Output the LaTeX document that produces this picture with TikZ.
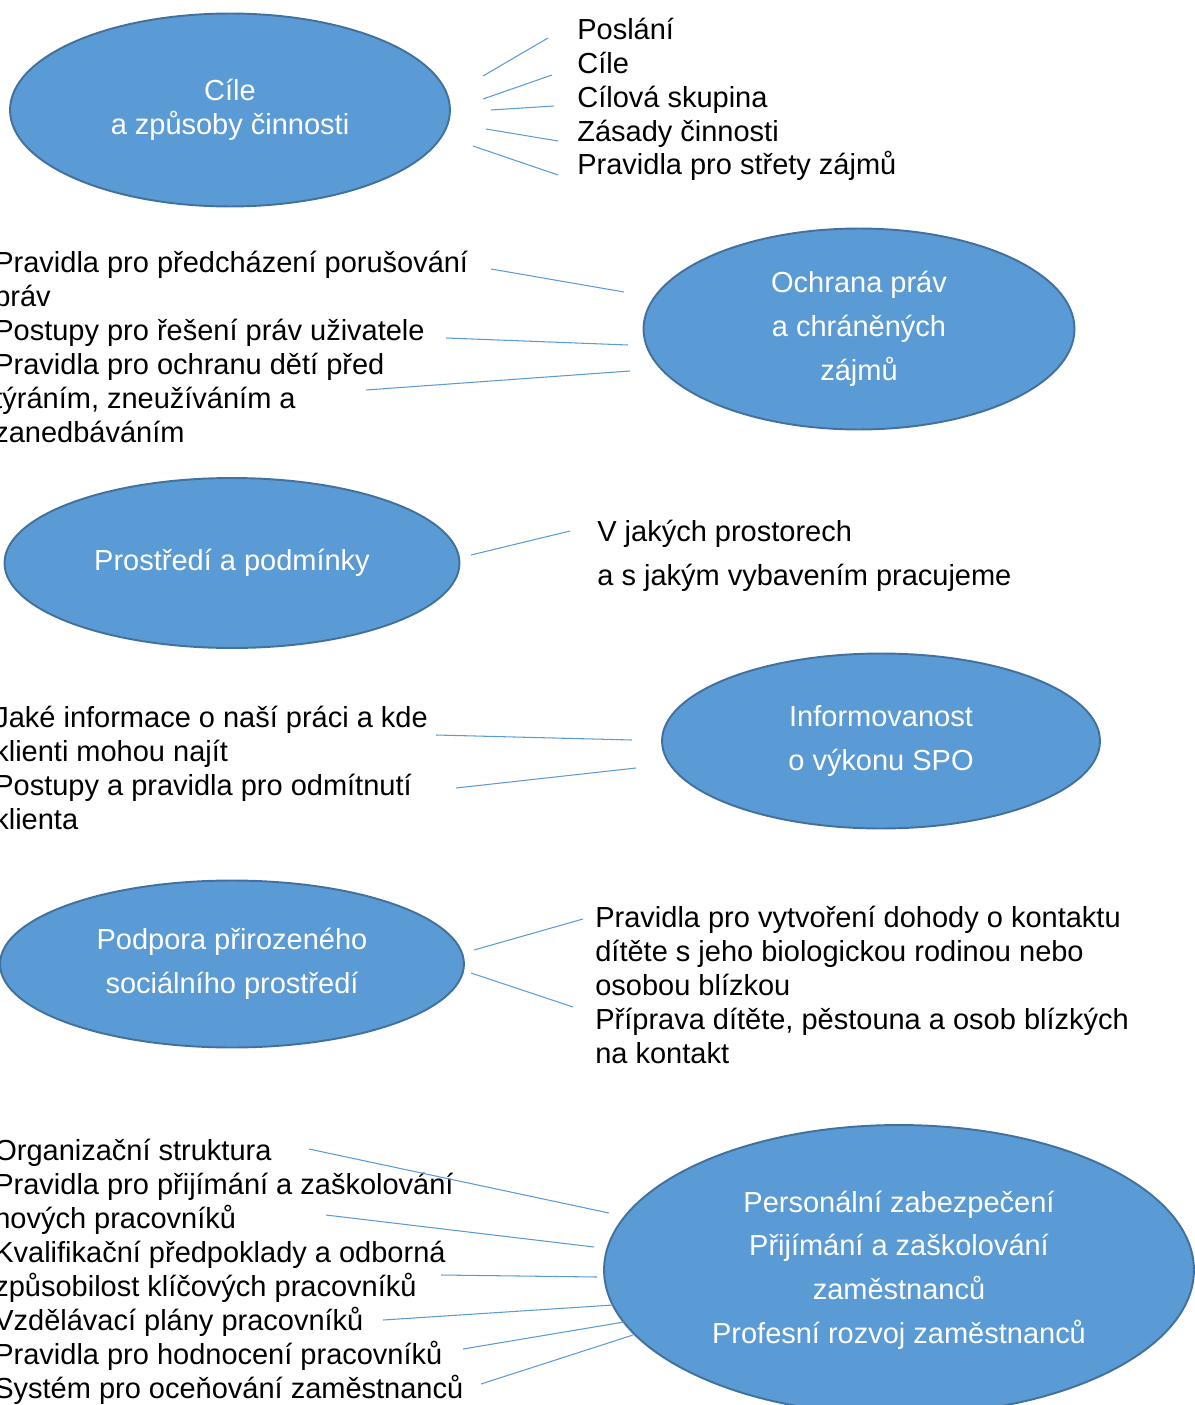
\documentclass[tikz,border=0pt]{standalone}
\usepackage{fontspec}
\setmainfont{Liberation Sans}
\usetikzlibrary{shapes.geometric}
\definecolor{bubblefill}{HTML}{5B9BD5}
\definecolor{bubbleedge}{HTML}{41719C}
\tikzset{
    bubble/.style={ellipse, draw=bubbleedge, line width=1.1pt, fill=bubblefill, text=white, align=center, inner sep=0pt, font=\fontsize{16.5}{19.3}\selectfont},
    wide/.style={font=\fontsize{16.5}{24.9}\selectfont},
    item/.style={anchor=base west, align=left, inner sep=0pt, font=\fontsize{16.5}{19.3}\selectfont},
    spoke/.style={draw=bubblefill, line width=0.6pt},
}
\begin{document}
\begin{tikzpicture}[x=0.02cm, y=-0.02cm]
    \useasboundingbox (0, 0) rectangle (1194, 1405);
    % bubbles
    \node[bubble, minimum width=8.8cm, minimum height=3.86cm] (cile) at (230, 110) {Cíle\\a způsoby činnosti};
    \node[bubble, wide, minimum width=8.62cm, minimum height=4.02cm] (ochrana) at (859, 329) {Ochrana práv\\a chráněných\\zájmů};
    \node[bubble, minimum width=9.1cm, minimum height=3.4cm] (prostredi) at (232, 563) {Prostředí a podmínky};
    \node[bubble, wide, minimum width=8.76cm, minimum height=3.5cm] (info) at (881, 741) {Informovanost\\o výkonu SPO};
    \node[bubble, wide, minimum width=9.28cm, minimum height=3.34cm] (podpora) at (232, 964) {Podpora přirozeného\\sociálního prostředí};
    \node[bubble, wide, minimum width=11.8cm, minimum height=5.8cm] (personal) at (899, 1270) {Personální zabezpečení\\Přijímání a zaškolování\\zaměstnanců\\Profesní rozvoj zaměstnanců};
    % item lists (anchored at the baseline of their last line)
    \node[item] (cilelist) at (577, 175) {Poslání\\Cíle\\Cílová skupina\\Zásady činnosti\\Pravidla pro střety zájmů};
    \node[item] (ochranalist) at (-6, 442) {Pravidla pro předcházení porušování\\práv\\Postupy pro řešení práv uživatele\\Pravidla pro ochranu dětí před\\týráním, zneužíváním a\\zanedbáváním};
    \node[item, wide] (prostredilist) at (597, 585) {V jakých prostorech\\a s jakým vybavením pracujeme};
    \node[item] (infolist) at (-6, 829) {Jaké informace o naší práci a kde\\klienti mohou najít\\Postupy a pravidla pro odmítnutí\\klienta};
    \node[item] (podporalist) at (595, 1063) {Pravidla pro vytvoření dohody o kontaktu\\dítěte s jeho biologickou rodinou nebo\\osobou blízkou\\Příprava dítěte, pěstouna a osob blízkých\\na kontakt};
    \node[item] (personallist) at (-6, 1398) {Organizační struktura\\Pravidla pro přijímání a zaškolování\\nových pracovníků\\Kvalifikační předpoklady a odborná\\způsobilost klíčových pracovníků\\Vzdělávací plány pracovníků\\Pravidla pro hodnocení pracovníků\\Systém pro oceňování zaměstnanců};
    % spoke ends
    \coordinate (c1a) at (483, 76);   \coordinate (c1b) at (548, 38);
    \coordinate (c2a) at (483, 99);   \coordinate (c2b) at (552, 75);
    \coordinate (c3a) at (491, 110);  \coordinate (c3b) at (554, 106);
    \coordinate (c4a) at (486, 129);  \coordinate (c4b) at (558, 141);
    \coordinate (c5a) at (473, 146);  \coordinate (c5b) at (558, 175);
    \coordinate (o1a) at (624, 292);  \coordinate (o1b) at (491, 269);
    \coordinate (o2a) at (628, 345);  \coordinate (o2b) at (446, 338);
    \coordinate (o3a) at (630, 371);  \coordinate (o3b) at (366, 390);
    \coordinate (r1a) at (471, 555);  \coordinate (r1b) at (570, 531);
    \coordinate (i1a) at (632, 740);  \coordinate (i1b) at (436, 735);
    \coordinate (i2a) at (636, 768);  \coordinate (i2b) at (456, 788);
    \coordinate (d1a) at (474, 950);  \coordinate (d1b) at (583, 919);
    \coordinate (d2a) at (471, 973);  \coordinate (d2b) at (573, 1007);
    \coordinate (z1a) at (609, 1213); \coordinate (z1b) at (309, 1149);
    \coordinate (z2a) at (594, 1247); \coordinate (z2b) at (326, 1215);
    \coordinate (z3a) at (597, 1277); \coordinate (z3b) at (441, 1275);
    \coordinate (z4a) at (613, 1305); \coordinate (z4b) at (383, 1320);
    \coordinate (z5a) at (624, 1322); \coordinate (z5b) at (463, 1349);
    \coordinate (z6a) at (633, 1335); \coordinate (z6b) at (481, 1384);
    % spokes
    \foreach \s in {c1, c2, c3, c4, c5, o1, o2, o3, r1, i1, i2, d1, d2, z1, z2, z3, z4, z5, z6}
        \draw[spoke] (\s a) -- (\s b);
\end{tikzpicture}
\end{document}
